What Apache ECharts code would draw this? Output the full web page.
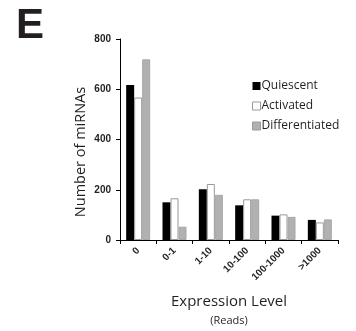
<!DOCTYPE html>
<html><head><meta charset="utf-8">
<script src="https://cdn.jsdelivr.net/npm/echarts@6/dist/echarts.min.js"></script>
<style>html,body{margin:0;padding:0;background:#fff}#c{width:356px;height:331px}</style>
</head><body><div id="c"></div>
<script>
const categories = ['0', '0-1', '1-10', '10-100', '100-1000', '>1000'];
const quiescent = [617, 150, 202, 138, 97, 80];
const activated = [567, 166, 223, 162, 102, 70];
const differentiated = [719, 53, 180, 162, 92, 82];
const yTicks = {min: 0, max: 800, interval: 200};

const chart = echarts.init(document.getElementById('c'));
const font = 'Liberation Sans, Arial, sans-serif';
const ink = '#231f20';
chart.setOption({
  animation: false,
  grid: {left: 120, right: 18, top: 39, bottom: 91},
  graphic: [
    {type: 'text', x: 16, y: 5, style: {text: 'E', font: 'bold 42px Liberation Sans, Arial', fill: ink}},
    {type: 'text', x: 81, y: 152, rotation: Math.PI / 2, style: {text: 'Number of miRNAs', font: '14.5px Open Sans, sans-serif', fill: ink, align: 'center', verticalAlign: 'middle'}},
    {type: 'text', x: 229, y: 302, style: {text: 'Expression Level', font: '15px Open Sans, sans-serif', fill: ink, align: 'center', verticalAlign: 'middle'}},
    {type: 'text', x: 229, y: 321, style: {text: '(Reads)', font: '11px Open Sans, sans-serif', fill: ink, align: 'center', verticalAlign: 'middle'}}
  ],
  legend: {
    orient: 'vertical', left: 247, top: 75, itemWidth: 8, itemHeight: 8, itemGap: 8,
    icon: 'rect',
    textStyle: {fontFamily: 'Open Sans, sans-serif', fontSize: 12, color: ink, padding: [0, 0, 0, -4]},
    data: [
      {name: 'Quiescent', itemStyle: {color: '#000', borderColor: '#000', borderWidth: 0}},
      {name: 'Activated', itemStyle: {color: '#fff', borderColor: '#999', borderWidth: 1}},
      {name: 'Differentiated', itemStyle: {color: '#b0b2b2', borderColor: '#999', borderWidth: 1}}
    ]
  },
  xAxis: {
    type: 'category', data: categories,
    axisLine: {lineStyle: {color: '#000', width: 1}},
    axisTick: {show: true, length: 4, lineStyle: {color: '#000'}},
    axisLabel: {rotate: 45, fontSize: 10, fontWeight: 'bold', color: ink, fontFamily: font, margin: 9}
  },
  yAxis: {
    type: 'value', min: yTicks.min, max: yTicks.max, interval: yTicks.interval,
    axisLine: {show: true, lineStyle: {color: '#000', width: 1}},
    axisTick: {show: true, length: 4, lineStyle: {color: '#000'}},
    splitLine: {show: false},
    axisLabel: {fontSize: 10, fontWeight: 'bold', color: ink, fontFamily: font, margin: 9}
  },
  series: [
    {name: 'Quiescent', type: 'bar', data: quiescent, barWidth: 8, barGap: '0%', itemStyle: {color: '#000'}},
    {name: 'Activated', type: 'bar', data: activated, barWidth: 8, barGap: '0%', itemStyle: {color: '#fff', borderColor: '#999', borderWidth: 1}},
    {name: 'Differentiated', type: 'bar', data: differentiated, barWidth: 8, barGap: '0%', itemStyle: {color: '#b0b2b2', borderColor: '#a6a8a8', borderWidth: 1}}
  ]
});
</script></body></html>
